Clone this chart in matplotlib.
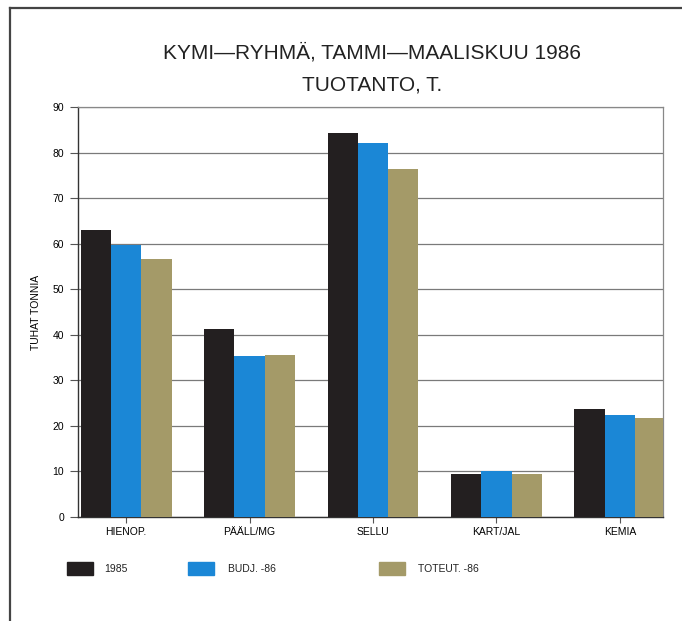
import numpy as np
import matplotlib.pyplot as plt
from matplotlib.patches import Rectangle
from matplotlib.lines import Line2D

plt.rcParams['font.family'] = ['Liberation Sans', 'DejaVu Sans']

# datos (tuhat tonnia)
tuotteet = ['HIENOP.', 'PÄÄLL/MG', 'SELLU', 'KART/JAL', 'KEMIA']
v1985 = [63.0, 41.3, 84.2, 9.4, 23.7]
budj86 = [59.8, 35.4, 82.2, 10.1, 22.4]
toteut86 = [56.7, 35.6, 76.3, 9.5, 21.8]
sarjat = ['1985', 'BUDJ. -86', 'TOTEUT. -86']
varit = ['#231f20', '#1b87d6', '#a49a68']

fig = plt.figure(figsize=(6.82, 6.21), dpi=100)
ax = fig.add_axes([0.1144, 0.1675, 0.8578, 0.6602])

x = np.arange(len(tuotteet))
w = 0.245
for k, arvot in enumerate([v1985, budj86, toteut86]):
    ax.bar(x + (k - 1) * w, arvot, width=w, color=varit[k], zorder=3)

ax.set_xlim(-0.39, 4.35)
ax.set_ylim(0, 90)
ax.set_yticks(np.arange(0, 91, 10))
ax.set_xticks(x)
ax.set_xticklabels(tuotteet)
ax.yaxis.grid(True, color='#7a7a7a', linewidth=0.9, zorder=1)
ax.tick_params(axis='y', length=6, width=0.8, color='#555555', labelsize=7.5, pad=4)
ax.tick_params(axis='x', length=4, width=0.8, color='#555555', labelsize=7.5, pad=3)
for s in ['left', 'bottom']:
    ax.spines[s].set_color('#333333')
    ax.spines[s].set_linewidth(1.0)
for s in ['top', 'right']:
    ax.spines[s].set_color('#888888')
    ax.spines[s].set_linewidth(0.9)
ax.set_ylabel('TUHAT TONNIA', fontsize=7.5, labelpad=8)

# otsikko
fig.text(372 / 682, 1 - 53 / 621, 'KYMI—RYHMÄ, TAMMI—MAALISKUU 1986',
         ha='center', va='center', fontsize=15, color='#222222')
fig.text(372 / 682, 1 - 85 / 621, 'TUOTANTO, T.',
         ha='center', va='center', fontsize=15, color='#222222')

# selite
px = [67, 188, 379]
tx = [104, 228, 418]
for k in range(3):
    fig.patches.append(Rectangle((px[k] / 682, 1 - 575 / 621), 26 / 682, 13 / 621,
                                 transform=fig.transFigure, color=varit[k]))
    fig.text(tx[k] / 682, 1 - 568.5 / 621, sarjat[k], ha='left', va='center',
             fontsize=7.5, color='#222222')

# kehys
fig.lines.append(Line2D([10 / 682, 10 / 682], [0, 1 - 8 / 621], transform=fig.transFigure,
                        color='#444444', linewidth=1.6))
fig.lines.append(Line2D([10 / 682, 1], [1 - 8 / 621, 1 - 8 / 621], transform=fig.transFigure,
                        color='#444444', linewidth=1.6))

fig.savefig('out.png', dpi=100)
